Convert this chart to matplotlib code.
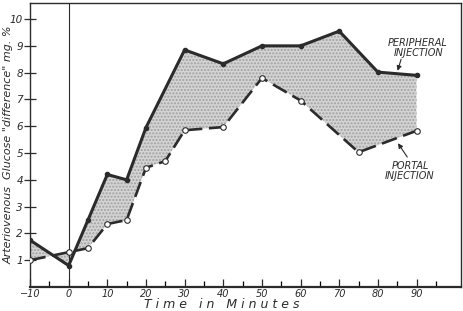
import numpy as np
import matplotlib.pyplot as plt

# datos
t_periferica = [-10, 0, 5, 10, 15, 20, 30, 40, 50, 60, 70, 80, 90]
g_periferica = [1.75, 0.8, 2.5, 4.2, 4.0, 5.95, 8.85, 8.33, 9.0, 9.0, 9.55, 8.02, 7.9]

t_portal = [-10, 0, 5, 10, 15, 20, 25, 30, 40, 50, 60, 75, 90]
g_portal = [1.0, 1.3, 1.45, 2.35, 2.5, 4.45, 4.7, 5.85, 5.97, 7.8, 6.96, 5.03, 5.83]

x_ticks = [-10, 0, 10, 20, 30, 40, 50, 60, 70, 80, 90]
y_ticks = [1, 2, 3, 4, 5, 6, 7, 8, 9, 10]

tinta = '#2b2b2b'

fig = plt.figure(figsize=(4.64, 3.11), dpi=100)
ax = fig.add_axes([30/464, 24/311, 431/464, 284/311])

# zona sombreada entre las dos curvas
poly_x = t_periferica + t_portal[::-1]
poly_y = g_periferica + g_portal[::-1]
ax.fill(poly_x, poly_y, facecolor='#d4d4d4', edgecolor='#a0a0a0', hatch='.....', linewidth=0, zorder=1)

ax.plot(t_periferica, g_periferica, color=tinta, lw=2.2, marker='o', ms=3,
        mfc=tinta, mec=tinta, zorder=3)
ax.plot(t_portal, g_portal, color=tinta, lw=1.9, dashes=(6, 2.5), marker='o', ms=4,
        mfc='white', mec=tinta, mew=0.8, zorder=3)

ax.axvline(0, color=tinta, lw=0.8, zorder=2)

ax.set_xlim(-10, 101.5)
ax.set_ylim(0, 10.6)
ax.set_xticks(x_ticks)
ax.set_xticks(np.arange(-5, 100, 10), minor=True)
ax.set_yticks(y_ticks)
ax.tick_params(axis='x', which='major', direction='in', length=6, width=0.9,
               labelsize=7, colors=tinta, pad=1.5)
ax.tick_params(axis='x', which='minor', direction='in', length=4, width=0.9)
ax.tick_params(axis='y', direction='inout', length=8, width=0.9,
               labelsize=7.5, colors=tinta, pad=1)
for lab in ax.get_xticklabels() + ax.get_yticklabels():
    lab.set_fontstyle('italic')

for s in ax.spines.values():
    s.set_color(tinta)
    s.set_linewidth(1.0)
ax.spines['bottom'].set_linewidth(1.6)

ax.set_xlabel('T i m e   i n   M i n u t e s', fontsize=9, style='italic',
              color=tinta, va='center')
ax.xaxis.set_label_coords(0.445, -0.062)
ax.set_ylabel('Arteriovenous  Glucose "difference" mg. %', fontsize=8,
              style='italic', color=tinta, va='center')
ax.yaxis.set_label_coords(-0.05, 0.5)

# etiquetas con flechas
ax.text(90.4, 8.92, 'PERIPHERAL\nINJECTION', ha='center', va='center', fontsize=7,
        style='italic', color=tinta, linespacing=1.1)
ax.annotate('', xy=(85, 8.02), xytext=(86.0, 8.5),
            arrowprops=dict(arrowstyle='-|>', color=tinta, lw=0.8, mutation_scale=7,
                            shrinkA=0, shrinkB=1))
ax.text(88.3, 4.33, 'PORTAL\nINJECTION', ha='center', va='center', fontsize=7,
        style='italic', color=tinta, linespacing=1.1)
ax.annotate('', xy=(85, 5.41), xytext=(87.6, 4.85),
            arrowprops=dict(arrowstyle='-|>', color=tinta, lw=0.8, mutation_scale=7,
                            shrinkA=0, shrinkB=1))

plt.savefig('out.png', dpi=100)
